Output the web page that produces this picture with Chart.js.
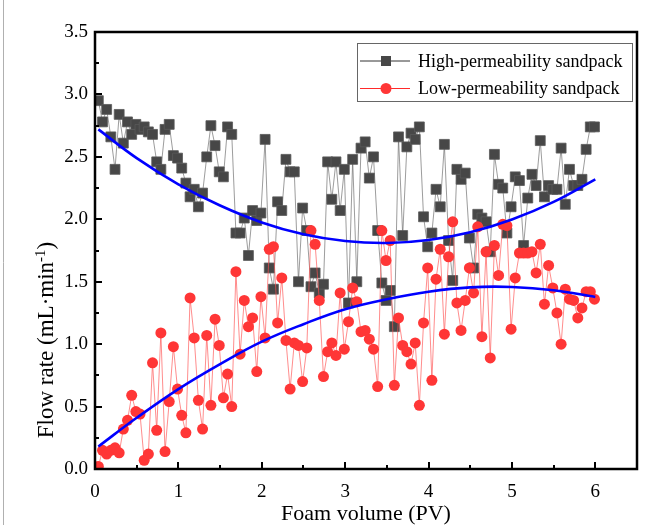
<!DOCTYPE html>
<html><head><meta charset="utf-8">
<script src="https://cdn.jsdelivr.net/npm/chart.js@4/dist/chart.umd.min.js"></script>
<style>html,body{margin:0;padding:0;background:#fff;}#wrap{width:654px;height:525px;position:relative;}</style>
</head><body><div id="wrap"><canvas id="c"></canvas></div>
<script>
const xValues = [0.04,0.09,0.14,0.19,0.24,0.29,0.34,0.39,0.44,0.49,0.54,0.59,0.64,0.69,0.74,0.79,0.84,0.89,0.94,0.99,
1.04,1.09,1.14,1.19,1.24,1.29,1.34,1.39,1.44,1.49,1.54,1.59,1.64,1.69,1.74,1.79,1.84,1.89,1.94,1.99,
2.04,2.09,2.14,2.19,2.24,2.29,2.34,2.39,2.44,2.49,2.54,2.59,2.64,2.69,2.74,2.79,2.84,2.89,2.94,2.99,
3.04,3.09,3.14,3.19,3.24,3.29,3.34,3.39,3.44,3.49,3.54,3.59,3.64,3.69,3.74,3.79,3.84,3.89,3.94,3.99,
4.04,4.09,4.14,4.19,4.24,4.29,4.34,4.39,4.44,4.49,4.54,4.59,4.64,4.69,4.74,4.79,4.84,4.89,4.94,4.99,
5.04,5.09,5.14,5.19,5.24,5.29,5.34,5.39,5.44,5.49,5.54,5.59,5.64,5.69,5.74,5.79,5.84,5.89,5.94,5.99];
const highValues = [2.95,2.78,2.88,2.66,2.40,2.84,2.61,2.78,2.68,2.76,2.72,2.74,2.70,2.68,2.46,2.40,2.72,2.76,2.51,2.49,
2.41,2.29,2.18,2.24,2.10,2.21,2.50,2.75,2.59,2.38,2.34,2.74,2.68,1.89,1.89,2.01,1.71,2.07,1.99,2.05,
2.64,1.61,1.44,2.14,2.07,2.48,2.38,2.38,1.50,2.09,1.91,1.46,1.57,1.41,1.48,2.46,2.16,2.46,2.07,2.40,
1.33,2.48,1.50,2.57,2.62,2.33,2.50,1.91,1.49,1.35,1.43,1.14,2.66,1.87,2.58,2.69,2.64,2.74,2.02,1.78,
1.89,2.24,2.10,2.60,1.83,1.51,2.40,2.32,2.37,1.85,1.61,2.04,2.01,1.98,1.74,2.52,2.28,2.25,1.89,2.10,
2.34,2.31,1.79,2.17,2.36,2.27,2.63,2.18,2.27,2.24,2.24,2.57,2.12,2.40,2.27,2.27,2.32,2.56,2.74,2.74];
const lowValues = [0.02,0.15,0.12,0.15,0.17,0.13,0.32,0.39,0.59,0.46,0.44,0.07,0.12,0.85,0.31,1.09,0.14,0.54,0.98,0.64,
0.43,0.29,1.37,1.05,0.55,0.32,1.07,0.51,1.20,0.99,0.57,0.76,0.50,1.58,0.92,1.35,1.14,1.21,0.78,1.38,
1.05,1.76,1.78,1.17,1.53,1.03,0.64,1.01,0.99,0.70,0.97,1.91,1.80,1.35,0.74,0.94,1.01,0.91,1.41,0.96,
1.18,1.45,1.34,1.10,1.11,1.04,0.96,0.66,1.91,1.67,1.83,0.67,1.21,0.99,0.94,0.84,1.01,0.51,1.17,1.61,
0.71,1.52,1.76,1.08,1.70,1.98,1.33,1.11,1.35,1.61,1.41,1.94,1.06,1.74,0.89,1.79,1.55,1.96,1.95,1.12,
1.53,1.73,1.73,1.73,1.74,1.57,1.80,1.32,1.63,1.45,1.25,1.00,1.44,1.36,1.35,1.21,1.29,1.42,1.42,1.36];
const fitX = [0.04,0.5,1.0,1.5,2.0,2.5,3.0,3.5,4.0,4.5,5.0,5.5,6.0];
const highFit = [2.72,2.49,2.28,2.11,1.975,1.88,1.826,1.81,1.834,1.896,1.998,2.139,2.32];
const lowFit = [0.18,0.41,0.64,0.84,1.02,1.16,1.28,1.36,1.42,1.455,1.458,1.432,1.378];
const xTicks = [0,1,2,3,4,5,6];
const yTicks = [0,0.5,1,1.5,2,2.5,3,3.5];
const seriesNames = ['High-permeability sandpack','Low-permeability sandpack'];
const xTitle = 'Foam volume (PV)';
const yTitleParts = ['Flow rate (mL\u00B7min', '-1', ')'];

const SERIF = "'Liberation Serif','Times New Roman',serif";
const pts = (xs, ys) => xs.map((x, i) => ({x, y: ys[i]}));

const framePlugin = {
  id: 'frame',
  afterDraw(chart) {
    const {ctx, chartArea: a, scales} = chart;
    const xs = scales.x, ys = scales.y;
    ctx.save();
    ctx.strokeStyle = '#000';
    ctx.lineWidth = 2;
    ctx.beginPath();
    for (let i = 0; i < xTicks.length; i++) {
      const px = Math.round(xs.getPixelForValue(xTicks[i]));
      ctx.moveTo(px, a.bottom); ctx.lineTo(px, a.bottom - 7);
      const m = xTicks[i] + 0.5;
      const pm = Math.round(xs.getPixelForValue(m));
      if (m < xs.max) { ctx.moveTo(pm, a.bottom); ctx.lineTo(pm, a.bottom - 4); }
    }
    for (let i = 0; i < yTicks.length; i++) {
      const py = Math.round(ys.getPixelForValue(yTicks[i]));
      ctx.moveTo(a.left, py); ctx.lineTo(a.left + 7, py);
      if (i < yTicks.length - 1) {
        const pm = Math.round(ys.getPixelForValue((yTicks[i] + yTicks[i + 1]) / 2));
        ctx.moveTo(a.left, pm); ctx.lineTo(a.left + 4, pm);
      }
    }
    ctx.stroke();
    ctx.lineWidth = 2.5;
    ctx.strokeRect(a.left, a.top, a.right - a.left, a.bottom - a.top);

    ctx.fillStyle = '#000';
    ctx.font = '22px ' + SERIF;
    ctx.textAlign = 'center';
    ctx.textBaseline = 'alphabetic';
    ctx.fillText(xTitle, (a.left + a.right) / 2, 520);

    ctx.translate(53, 340);
    ctx.rotate(-Math.PI / 2);
    ctx.textAlign = 'left';
    const f1 = '23px ' + SERIF, f2 = '15px ' + SERIF;
    ctx.font = f1; const w1 = ctx.measureText(yTitleParts[0]).width; const w3 = ctx.measureText(yTitleParts[2]).width;
    ctx.font = f2; const w2 = ctx.measureText(yTitleParts[1]).width;
    let sx = -(w1 + w2 + w3) / 2;
    ctx.font = f1; ctx.fillText(yTitleParts[0], sx, 0); sx += w1;
    ctx.font = f2; ctx.fillText(yTitleParts[1], sx, -8); sx += w2;
    ctx.font = f1; ctx.fillText(yTitleParts[2], sx, 0);
    ctx.restore();

    ctx.save();
    const lx = 357.5, ly = 43.5, lw = 275, lh = 58;
    ctx.fillStyle = '#fff';
    ctx.fillRect(lx, ly, lw, lh);
    ctx.strokeStyle = '#666'; ctx.lineWidth = 1;
    ctx.strokeRect(lx, ly, lw, lh);
    const rows = [61, 88.5];
    ctx.strokeStyle = '#333'; ctx.lineWidth = 1;
    ctx.beginPath(); ctx.moveTo(360, rows[0]); ctx.lineTo(410, rows[0]); ctx.stroke();
    ctx.fillStyle = '#474747'; ctx.fillRect(381, rows[0] - 5, 10, 10);
    ctx.strokeStyle = '#ff2a2a';
    ctx.beginPath(); ctx.moveTo(360, rows[1]); ctx.lineTo(410, rows[1]); ctx.stroke();
    ctx.fillStyle = '#ff3636'; ctx.beginPath(); ctx.arc(386, rows[1], 5.5, 0, Math.PI * 2); ctx.fill();
    ctx.fillStyle = '#000'; ctx.font = '18px ' + SERIF; ctx.textAlign = 'left'; ctx.textBaseline = 'middle';
    ctx.fillText(seriesNames[0], 418, rows[0] + 1);
    ctx.fillText(seriesNames[1], 418, rows[1] + 1);
    ctx.restore();

    ctx.save();
    ctx.strokeStyle = '#b0b0b0'; ctx.lineWidth = 1;
    ctx.beginPath(); ctx.moveTo(3.5, 0); ctx.lineTo(3.5, 525); ctx.stroke();
    ctx.restore();
  }
};

new Chart(document.getElementById('c'), {
  type: 'scatter',
  data: {
    datasets: [
      { label: 'fitHigh', data: pts(fitX, highFit), showLine: true, borderColor: '#0000ff', borderWidth: 2.6,
        pointRadius: 0, tension: 0.4, order: 0 },
      { label: 'fitLow', data: pts(fitX, lowFit), showLine: true, borderColor: '#0000ff', borderWidth: 2.6,
        pointRadius: 0, tension: 0.4, order: 0 },
      { label: seriesNames[1], data: pts(xValues, lowValues), showLine: true, borderColor: 'rgba(255,80,80,0.65)', borderWidth: 1,
        pointStyle: 'circle', pointRadius: 5.5, pointBackgroundColor: '#ff3636', pointBorderColor: '#ff3636', pointBorderWidth: 0, tension: 0, order: 1 },
      { label: seriesNames[0], data: pts(xValues, highValues), showLine: true, borderColor: 'rgba(90,90,90,0.6)', borderWidth: 1,
        pointStyle: 'rect', pointRadius: 7, pointBackgroundColor: '#474747', pointBorderColor: '#5a5a5a', pointBorderWidth: 0.8, tension: 0, order: 2 }
    ]
  },
  options: {
    responsive: true, maintainAspectRatio: false, animation: false, devicePixelRatio: 1,
    layout: { padding: { top: 32, right: 17, left: 0, bottom: 0 }, autoPadding: false },
    plugins: { legend: { display: false }, tooltip: { enabled: false } },
    scales: {
      x: { type: 'linear', min: 0, max: 6.5,
        afterBuildTicks: s => { s.ticks = xTicks.map(v => ({ value: v })); },
        afterFit: s => { s.height = 56; },
        grid: { display: false, drawTicks: false }, border: { display: false },
        ticks: { font: { family: SERIF, size: 19 }, color: '#000', padding: 12, maxRotation: 0,
          callback: v => String(v) } },
      y: { type: 'linear', min: 0, max: 3.5,
        afterBuildTicks: s => { s.ticks = yTicks.map(v => ({ value: v })); },
        afterFit: s => { s.width = 95; },
        grid: { display: false, drawTicks: false }, border: { display: false },
        ticks: { font: { family: SERIF, size: 19 }, color: '#000', padding: 7,
          callback: v => Number(v).toFixed(1) } }
    }
  },
  plugins: [framePlugin]
});
</script></body></html>
